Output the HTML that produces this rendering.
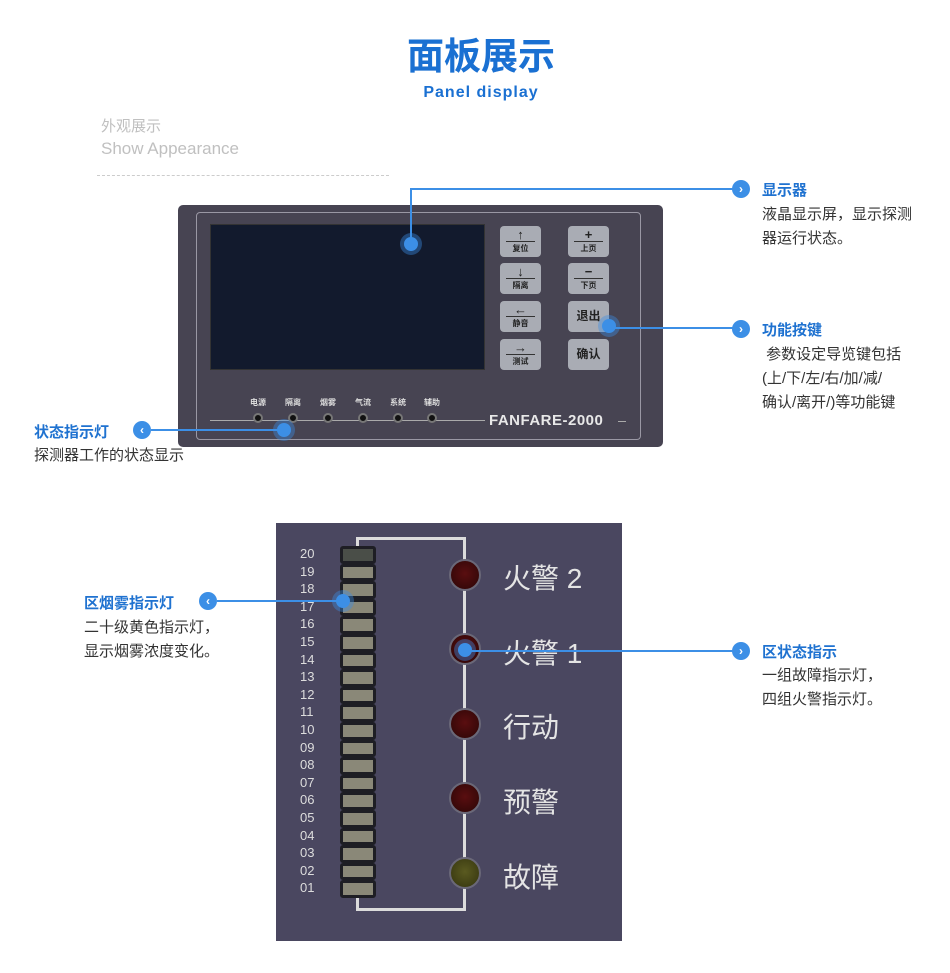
<!DOCTYPE html>
<html><head><meta charset="utf-8"><style>
*{margin:0;padding:0;box-sizing:border-box}
body{width:950px;height:973px;background:#fff;position:relative;overflow:hidden;font-family:"Liberation Sans","Noto Sans CJK SC",sans-serif}
.a{position:absolute}
.t{color:#333;font-size:15px;line-height:24px}
.h{color:#1f72d0;font-weight:bold;font-size:15px}
.btn{position:absolute;width:41px;height:31px;background:#a9acb4;border-radius:4px;color:#222;text-align:center;font-size:8px;line-height:9px;font-weight:bold}
.btn b{display:block;font-size:13px;line-height:13px;margin-top:2px}
.btn i{display:block;margin:0 6px;border-top:1px solid #333;padding-top:2px;font-style:normal}
.big{font-size:12px;line-height:31px}
.led{position:absolute;width:10px;height:10px;border-radius:50%;background:#111;border:2px solid #777}
.ll{position:absolute;color:#ddd;font-size:8px;font-weight:bold}
.bar{position:absolute;left:340px;width:36px;height:17.6px;background:#8a8878;border:3px solid #1e1e24;border-radius:3px}
.num{position:absolute;left:300px;color:#ddd;font-size:13px;width:20px}
.rl{position:absolute;left:449px;width:32px;height:32px;border-radius:50%;background:radial-gradient(circle at 50% 45%,#5a0e10,#2a0606);border:2px solid #6a6878}
.rt{position:absolute;left:503px;color:#e4e4e4;font-size:28px}
.cir{position:absolute;width:18px;height:18px;border-radius:50%;background:#3c8fe6;color:#fff;font-size:12px;line-height:18px;text-align:center;font-weight:bold}
.dot{position:absolute;width:14px;height:14px;border-radius:50%;background:#3c8fe6;box-shadow:0 0 0 4px rgba(60,143,230,.4)}
.ln{position:absolute;background:#3c8fe6}
</style></head><body>
<div class="a" style="left:0;width:950px;top:26px;text-align:center;color:#1a70d2;font-size:37px;font-weight:bold;padding-left:12px">面板展示</div>
<div class="a" style="left:0;width:950px;top:84px;text-align:center;color:#1a70d2;font-size:16px;font-weight:bold;padding-left:12px;letter-spacing:1px">Panel display</div>
<div class="a" style="left:101px;top:115px;color:#c0c0c0;font-size:15px">外观展示</div>
<div class="a" style="left:101px;top:139px;color:#c0c0c0;font-size:17px">Show Appearance</div>
<div class="a" style="left:97px;top:175px;width:292px;border-top:1px dashed #ccc"></div>

<div class="a" style="left:178px;top:205px;width:485px;height:242px;background:#474452;border-radius:5px"></div>
<div class="a" style="left:196px;top:212px;width:445px;height:228px;border:1px solid #9a98a4;border-radius:4px"></div>
<div class="a" style="left:210px;top:224px;width:275px;height:146px;background:#121a2d;border:1px solid #333"></div>
<div class="btn" style="left:500px;top:226px"><b>↑</b><i>复位</i></div>
<div class="btn" style="left:568px;top:226px"><b>+</b><i>上页</i></div>
<div class="btn" style="left:500px;top:263px"><b>↓</b><i>隔离</i></div>
<div class="btn" style="left:568px;top:263px"><b>−</b><i>下页</i></div>
<div class="btn" style="left:500px;top:301px"><b>←</b><i>静音</i></div>
<div class="btn big" style="left:568px;top:301px">退出</div>
<div class="btn" style="left:500px;top:339px"><b>→</b><i>测试</i></div>
<div class="btn big" style="left:568px;top:339px">确认</div>
<div class="a" style="left:210px;top:420px;width:275px;border-top:1px solid #aaa"></div>
<div class="ll" style="left:250px;top:397px">电源</div><div class="ll" style="left:285px;top:397px">隔离</div><div class="ll" style="left:320px;top:397px">烟雾</div><div class="ll" style="left:355px;top:397px">气流</div><div class="ll" style="left:390px;top:397px">系统</div><div class="ll" style="left:424px;top:397px">辅助</div>
<div class="led" style="left:253px;top:413px"></div><div class="led" style="left:288px;top:413px"></div><div class="led" style="left:323px;top:413px"></div><div class="led" style="left:358px;top:413px"></div><div class="led" style="left:393px;top:413px"></div><div class="led" style="left:427px;top:413px"></div>
<div class="a" style="left:489px;top:412px;color:#e8e8e8;font-size:15px;font-weight:bold;letter-spacing:.5px">FANFARE-2000</div>
<div class="a" style="left:618px;top:421px;width:8px;border-top:1px solid #aaa"></div>

<div class="ln" style="left:410px;top:188px;width:2px;height:56px"></div>
<div class="ln" style="left:410px;top:188px;width:323px;height:2px"></div>
<div class="dot" style="left:404px;top:237px"></div>
<div class="cir" style="left:732px;top:180px">›</div>
<div class="a h" style="left:762px;top:179px">显示器</div>
<div class="a t" style="left:762px;top:203px">液晶显示屏，显示探测<br>器运行状态。</div>

<div class="ln" style="left:609px;top:327px;width:124px;height:2px"></div>
<div class="dot" style="left:602px;top:319px"></div>
<div class="cir" style="left:732px;top:320px">›</div>
<div class="a h" style="left:762px;top:319px">功能按键</div>
<div class="a t" style="left:762px;top:343px">&nbsp;参数设定导览键包括<br>(上/下/左/右/加/减/<br>确认/离开/)等功能键</div>

<div class="cir" style="left:133px;top:421px">‹</div>
<div class="ln" style="left:151px;top:429px;width:132px;height:2px"></div>
<div class="dot" style="left:277px;top:423px"></div>
<div class="a h" style="left:34px;top:421px">状态指示灯</div>
<div class="a t" style="left:34px;top:444px">探测器工作的状态显示</div>

<div class="a" style="left:276px;top:523px;width:346px;height:418px;background:#4a4760"></div>
<div class="a" style="left:356px;top:537px;width:110px;height:374px;border:3px solid #dcdcdc"></div>
<div id="bars"></div>
<div class="rl" style="left:449px;top:559px"></div>
<div class="rl" style="left:449px;top:633px"></div>
<div class="rl" style="left:449px;top:708px"></div>
<div class="rl" style="left:449px;top:782px"></div>
<div class="rl" style="left:449px;top:857px;background:radial-gradient(circle at 50% 45%,#5a5a20,#33330e)"></div>
<div class="rt" style="top:557px">火警 2</div>
<div class="rt" style="top:632px">火警 1</div>
<div class="rt" style="top:706px">行动</div>
<div class="rt" style="top:781px">预警</div>
<div class="rt" style="top:856px">故障</div>

<div class="cir" style="left:199px;top:592px">‹</div>
<div class="ln" style="left:217px;top:600px;width:126px;height:2px"></div>
<div class="dot" style="left:336px;top:594px"></div>
<div class="a h" style="left:84px;top:592px">区烟雾指示灯</div>
<div class="a t" style="left:84px;top:616px">二十级黄色指示灯，<br>显示烟雾浓度变化。</div>

<div class="ln" style="left:465px;top:650px;width:268px;height:2px"></div>
<div class="dot" style="left:458px;top:643px"></div>
<div class="cir" style="left:732px;top:642px">›</div>
<div class="a h" style="left:762px;top:641px">区状态指示</div>
<div class="a t" style="left:762px;top:664px">一组故障指示灯，<br>四组火警指示灯。</div>
<script>
var s='';for(var i=0;i<20;i++){var n=20-i,y=546+i*17.6;s+='<div class="bar" style="top:'+y+'px'+(n==20?';background:#4a4e48':'')+'"></div><div class="num" style="top:'+(y)+'px">'+(n<10?'0'+n:n)+'</div>';}
document.getElementById('bars').innerHTML=s;
</script>
</body></html>
